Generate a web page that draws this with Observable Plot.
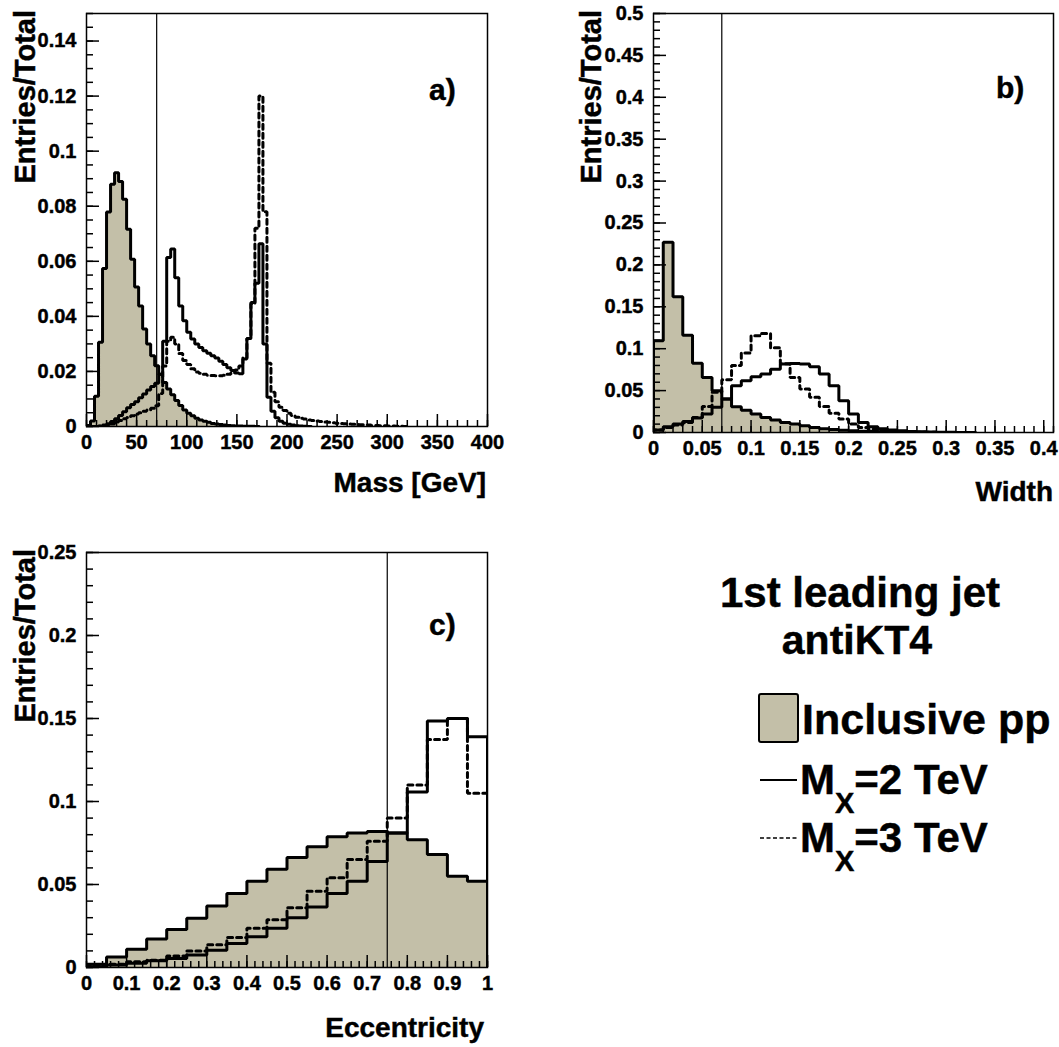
<!DOCTYPE html>
<html>
<head>
<meta charset="utf-8">
<script src="https://cdn.jsdelivr.net/npm/d3@7"></script>
<script src="https://cdn.jsdelivr.net/npm/@observablehq/plot@0.6"></script>
<style>
html, body { margin: 0; padding: 0; background: #ffffff; }
#root { position: relative; width: 1059px; height: 1047px; overflow: hidden; background: #ffffff;
  font-family: "Liberation Sans", Arial, Helvetica, sans-serif; }
#root > svg { position: absolute; overflow: visible; }
#root svg text { font-weight: bold; fill: #000; stroke: #000; stroke-width: 0.45px; }
</style>
</head>
<body>
<div id="root"></div>
<script>
// ---------------- DATA ----------------
// Panel a) jet mass, 4 GeV bins starting at 0
const massBinWidth = 4;
const massInclusive = [0.0004, 0.002, 0.011, 0.0306, 0.0574, 0.0779, 0.088, 0.0922, 0.089, 0.0825,
  0.0716, 0.0607, 0.0507, 0.0438, 0.0354, 0.030, 0.0257, 0.0221, 0.019, 0.016,
  0.0136, 0.0115, 0.0094, 0.0076, 0.006, 0.0048, 0.0039, 0.003, 0.0024, 0.0019,
  0.0015, 0.0011, 0.0009, 0.0007, 0.0005, 0.0004, 0.0003, 0.0002, 0.0002, 0.0001,
  0.0001, 0.0001, 0];
const massMx2 = [0, 0, 0, 0.0002, 0.0005, 0.001, 0.0018, 0.0028, 0.004, 0.0054,
  0.0068, 0.008, 0.009, 0.0104, 0.0118, 0.0133, 0.0145, 0.0157, 0.019, 0.031,
  0.0614, 0.0645, 0.054, 0.0438, 0.0384, 0.0342, 0.0318, 0.030, 0.0287, 0.0275,
  0.0266, 0.0257, 0.0249, 0.0237, 0.0225, 0.0213, 0.0203, 0.0194, 0.0192, 0.0245,
  0.032, 0.045, 0.052, 0.0664, 0.030, 0.0106, 0.0055, 0.0032, 0.0019, 0.0012,
  0.0008, 0.0005, 0.0003, 0.0002, 0.0001, 0];
const massMx3 = [0, 0, 0, 0.0001, 0.0002, 0.0004, 0.0009, 0.0016, 0.0022, 0.0028,
  0.0033, 0.0039, 0.0045, 0.005, 0.0055, 0.006, 0.0066, 0.0075, 0.012, 0.022,
  0.031, 0.0324, 0.030, 0.0265, 0.024, 0.0225, 0.021, 0.0198, 0.0193, 0.019,
  0.0186, 0.0185, 0.0184, 0.0184, 0.0186, 0.019, 0.0195, 0.0205, 0.022, 0.025,
  0.032, 0.0446, 0.072, 0.12, 0.078, 0.023, 0.0124, 0.009, 0.007, 0.0058,
  0.0048, 0.004, 0.0034, 0.003, 0.0027, 0.0024, 0.0022, 0.002, 0.0018, 0.0016,
  0.0015, 0.0014, 0.0012, 0.0011, 0.001, 0.0009, 0.0008, 0.0007, 0.0006, 0.0006,
  0.0005, 0.0004, 0.0004, 0.0003, 0.0003, 0.0002, 0.0002, 0.0001, 0.0001, 0];
const massCut = 70;
const massXTicks = [0, 50, 100, 150, 200, 250, 300, 350, 400];
const massYTicks = [0, 0.02, 0.04, 0.06, 0.08, 0.1, 0.12, 0.14];

// Panel b) jet width, 0.01 bins
const widthBinWidth = 0.01;
const widthInclusive = [0.1094, 0.227, 0.162, 0.116, 0.0825, 0.0656, 0.0498, 0.040, 0.0307, 0.0267,
  0.022, 0.0179, 0.0148, 0.012, 0.010, 0.008, 0.006, 0.0045, 0.0035, 0.0026,
  0.002, 0.0015, 0.0011, 0.0008, 0.0006, 0.0004, 0.0003, 0.0002, 0.0001, 0.0001, 0];
const widthMx2 = [0.003, 0.0068, 0.010, 0.013, 0.0172, 0.022, 0.030, 0.040, 0.0557, 0.0617,
  0.0665, 0.0697, 0.0756, 0.0816, 0.0824, 0.0816, 0.0784, 0.0697, 0.0557, 0.0378,
  0.022, 0.012, 0.0068, 0.0045, 0.003, 0.002, 0.0012, 0.0008, 0.0005, 0.0003, 0.0002, 0.0001, 0];
const widthMx3 = [0.003, 0.006, 0.009, 0.012, 0.018, 0.031, 0.048, 0.063, 0.080, 0.095,
  0.1154, 0.118, 0.101, 0.082, 0.0656, 0.052, 0.042, 0.031, 0.023, 0.016,
  0.010, 0.006, 0.004, 0.0025, 0.0015, 0.001, 0.0006, 0.0004, 0.0002, 0.0001, 0];
const widthCut = 0.07;
const widthXTicks = [0, 0.05, 0.1, 0.15, 0.2, 0.25, 0.3, 0.35, 0.4];
const widthYTicks = [0, 0.05, 0.1, 0.15, 0.2, 0.25, 0.3, 0.35, 0.4, 0.45, 0.5];

// Panel c) eccentricity, 0.05 bins
const eccBinWidth = 0.05;
const eccInclusive = [0.002, 0.0064, 0.011, 0.0171, 0.0229, 0.0297, 0.0371, 0.0446, 0.052, 0.0592,
  0.0663, 0.0727, 0.0787, 0.081, 0.082, 0.081, 0.077, 0.068, 0.055, 0.052];
const eccMx2 = [0.0005, 0.0015, 0.0025, 0.004, 0.0054, 0.0076, 0.0104, 0.0145, 0.0185, 0.0237,
  0.030, 0.0365, 0.0446, 0.052, 0.0638, 0.081, 0.1057, 0.1485, 0.150, 0.139];
const eccMx3 = [0.0008, 0.002, 0.0035, 0.0044, 0.007, 0.010, 0.0137, 0.018, 0.0237, 0.0287,
  0.036, 0.046, 0.054, 0.065, 0.076, 0.090, 0.110, 0.1373, 0.150, 0.105];
const eccCut = 0.75;
const eccXTicks = [0, 0.1, 0.2, 0.3, 0.4, 0.5, 0.6, 0.7, 0.8, 0.9, 1];
const eccYTicks = [0, 0.05, 0.1, 0.15, 0.2, 0.25];

const legendTitle = ["1st leading jet", "antiKT4"];
const legendLabels = ["Inclusive pp", "2 TeV", "3 TeV"];
const yTitle = "Entries/Total";

// ---------------- STYLE ----------------
const FILL = "#c3bfa8";
const FONT = '"Liberation Sans", Arial, Helvetica, sans-serif';
const fmt = d3.format("~g");

function steps(vals, w) {
  const p = [{x: 0, y: 0}];
  vals.forEach((v, i) => p.push({x: i * w, y: v}));
  p.push({x: vals.length * w, y: vals[vals.length - 1]});
  p.push({x: vals.length * w, y: 0});
  return p;
}

function panel(o) {
  const frameW = o.width - o.ml - o.mr;
  const frameH = o.height - o.mt - o.mb;
  const incl = steps(o.incl, o.bw), s2 = steps(o.m2, o.bw), s3 = steps(o.m3, o.bw);
  const svg = Plot.plot({
    width: o.width, height: o.height,
    marginLeft: o.ml, marginRight: o.mr, marginTop: o.mt, marginBottom: o.mb,
    x: {domain: o.xDomain},
    y: {domain: o.yDomain},
    style: {fontFamily: FONT, fontSize: "20px", fontWeight: "bold", background: "transparent", overflow: "visible", maxWidth: "none"},
    marks: [
      Plot.areaY(incl, {x: "x", y: "y", curve: "step-after", fill: FILL, clip: true}),
      Plot.line(incl, {x: "x", y: "y", curve: "step-after", stroke: "#000", strokeWidth: 3, strokeLinejoin: "miter", clip: true}),
      Plot.line(s3, {x: "x", y: "y", curve: "step-after", stroke: "#000", strokeWidth: 3, strokeDasharray: "5,4", strokeLinejoin: "miter", clip: true}),
      Plot.line(s2, {x: "x", y: "y", curve: "step-after", stroke: "#000", strokeWidth: 3, strokeLinejoin: "miter", clip: true}),
      Plot.ruleX([o.cut], {stroke: "#000", strokeWidth: 1.2}),
      // inward ticks
      Plot.ruleY(o.yMinor, {stroke: "#000", strokeWidth: 1.5, insetRight: frameW - 7}),
      Plot.ruleY(o.yTicks, {stroke: "#000", strokeWidth: 1.5, insetRight: frameW - 13}),
      Plot.ruleX(o.xMinor, {stroke: "#000", strokeWidth: 1.5, insetTop: frameH - 6}),
      Plot.ruleX(o.xTicks, {stroke: "#000", strokeWidth: 1.5, insetTop: frameH - 12}),
      Plot.axisY({ticks: o.yTicks, tickSize: 0, tickPadding: 10, tickFormat: fmt, label: null, fontSize: 20, fontWeight: "bold"}),
      Plot.axisX({ticks: o.xTicks, tickSize: 0, tickPadding: 8, tickFormat: fmt, label: null, fontSize: 20, fontWeight: "bold"}),
      Plot.frame({stroke: "#000", strokeWidth: 1.5})
    ]
  });
  svg.style.left = o.left + "px";
  svg.style.top = o.top + "px";
  return svg;
}

const root = document.getElementById("root");

root.appendChild(panel({
  left: 0, top: 0, width: 520, height: 470, ml: 86, mr: 33, mt: 13, mb: 44,
  xDomain: [0, 400], yDomain: [0, 0.15], bw: massBinWidth,
  incl: massInclusive, m2: massMx2, m3: massMx3, cut: massCut,
  xTicks: massXTicks, xMinor: d3.range(0, 401, 10),
  yTicks: massYTicks, yMinor: d3.range(0, 0.1501, 0.005)
}));

root.appendChild(panel({
  left: 560, top: 0, width: 499, height: 470, ml: 93, mr: 6, mt: 13, mb: 38,
  xDomain: [0, 0.41], yDomain: [0, 0.5], bw: widthBinWidth,
  incl: widthInclusive, m2: widthMx2, m3: widthMx3, cut: widthCut,
  xTicks: widthXTicks, xMinor: d3.range(0, 0.4101, 0.01),
  yTicks: widthYTicks, yMinor: d3.range(0, 0.5001, 0.01)
}));

root.appendChild(panel({
  left: 0, top: 520, width: 520, height: 480, ml: 86, mr: 33, mt: 32, mb: 33,
  xDomain: [0, 1], yDomain: [0, 0.25], bw: eccBinWidth,
  incl: eccInclusive, m2: eccMx2, m3: eccMx3, cut: eccCut,
  xTicks: eccXTicks, xMinor: d3.range(0, 1.0001, 0.02),
  yTicks: eccYTicks, yMinor: d3.range(0, 0.2501, 0.01)
}));

// ---------------- TITLES & LEGEND overlay ----------------
const ov = d3.select(root).append("svg")
  .attr("width", 1059).attr("height", 1047)
  .style("left", "0px").style("top", "0px")
  .attr("font-family", FONT).attr("font-weight", "bold");

function ytitle(x, y) {
  ov.append("text").attr("transform", `translate(${x},${y}) rotate(-90)`)
    .attr("text-anchor", "end").attr("font-size", 29).text(yTitle);
}
ytitle(35, 10); ytitle(601, 10); ytitle(35, 549);

function xtitle(x, y, t) {
  ov.append("text").attr("x", x).attr("y", y).attr("text-anchor", "end").attr("font-size", 28).text(t);
}
xtitle(486, 492, "Mass [GeV]");
xtitle(1053, 501, "Width");
xtitle(484, 1037, "Eccentricity");

function letter(x, y, t) {
  ov.append("text").attr("x", x).attr("y", y).attr("font-size", 30).text(t);
}
letter(429, 100, "a)");
letter(996, 98, "b)");
letter(429, 635, "c)");

ov.append("text").attr("x", 860).attr("y", 607).attr("text-anchor", "middle").attr("font-size", 42).text(legendTitle[0]);
ov.append("text").attr("x", 857).attr("y", 654).attr("text-anchor", "middle").attr("font-size", 41).text(legendTitle[1]);

ov.append("rect").attr("x", 759).attr("y", 694).attr("width", 39).attr("height", 48)
  .attr("rx", 2).attr("fill", FILL).attr("stroke", "#000").attr("stroke-width", 2);
ov.append("text").attr("x", 802).attr("y", 734).attr("font-size", 43).text(legendLabels[0]);

ov.append("line").attr("x1", 760).attr("x2", 797).attr("y1", 780).attr("y2", 780)
  .attr("stroke", "#000").attr("stroke-width", 2);
ov.append("line").attr("x1", 760).attr("x2", 797).attr("y1", 838).attr("y2", 838)
  .attr("stroke", "#000").attr("stroke-width", 1.5).attr("stroke-dasharray", "4,2.5");

function mxLabel(y, t) {
  const tx = ov.append("text").attr("x", 800).attr("y", y).attr("font-size", 42);
  tx.append("tspan").text("M");
  tx.append("tspan").attr("dy", 19).attr("font-size", 29).text("X");
  tx.append("tspan").attr("dy", -19).text("=" + t);
}
mxLabel(794, legendLabels[1]);
mxLabel(852, legendLabels[2]);
</script>
</body>
</html>
